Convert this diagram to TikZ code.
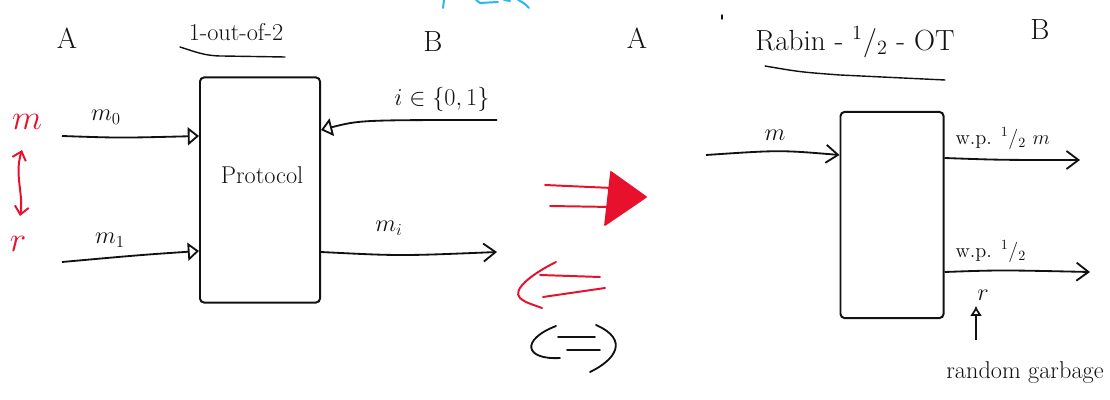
\documentclass[tikz,border=0pt]{standalone}
\usepackage{amsmath}
\usepackage{tikz}
\usetikzlibrary{arrows.meta,positioning,calc}
\definecolor{InkRed}{HTML}{E8112D}
\definecolor{InkBlue}{HTML}{29B6F0}
\definecolor{Ink}{HTML}{111111}

\begin{document}
\begin{tikzpicture}[
    x=0.025cm, y=-0.025cm,
    font=\Large, line width=1.3pt, draw=Ink, text=Ink,
    party/.style={font=\huge},
    title/.style={font=\huge},
    sig/.style={font=\LARGE},
    protobox/.style={draw=Ink, line width=1.4pt, rounded corners=1mm, minimum width=3cm, minimum height=5.625cm},
    otbox/.style={draw=Ink, line width=1.4pt, rounded corners=1mm, minimum width=2.575cm, minimum height=5.15cm},
    openarr/.style={-{Triangle[open, length=2.8mm, width=4.5mm]}, line width=1.3pt},
    hookarr/.style={-{Straight Barb[length=3mm, width=4.5mm]}, line width=1.3pt},
    redink/.style={draw=InkRed, line width=1.4pt, line cap=round},
    underl/.style={line width=1pt, line cap=round}
]
\useasboundingbox (0,0) rectangle (1110,400);

% 1-out-of-2 OT
\node[party] (ALeft) at (67,38) {A};
\node[party] (BLeft) at (433,42) {B};
\node[font=\LARGE] (titleLeft) at (236,32) {1-out-of-2};
\draw[underl] (180,47) .. controls (196,52) and (205,56) .. (222,56) -- (285,57);
\node[protobox] (proto) at (260,190) {};
\node[font=\LARGE] (protoLbl) at (262,175) {Protocol};

\node[font=\Huge, text=InkRed] (mRed) at (27,122) {$m$};
\node[font=\Huge, text=InkRed] (rRed) at (18,244) {$r$};
\coordinate (mrTop) at (22,150);
\coordinate (mrBot) at (20,216);
\draw[redink, {Straight Barb[length=2mm, width=3.5mm]}-{Straight Barb[length=2mm, width=3.5mm]}]
    (mrTop) .. controls (14,175) and (24,195) .. (mrBot);

\coordinate (m0start) at (62,136);
\coordinate (m1start) at (62,262);
\coordinate (ibstart) at (497,120);
\coordinate (miend) at (497,252);
\draw[openarr] (m0start) .. controls (120,138) .. (m0start -| proto.west);
\draw[openarr] (m1start) .. controls (140,255) .. ($(m1start -| proto.west)+(0,-11)$);
\draw[openarr] (ibstart) .. controls (360,120) .. ($(ibstart -| proto.east)+(0,10)$);
\draw[hookarr] (miend -| proto.east) .. controls (400,256) .. (miend);
\node[sig] (m0Lbl) at (106,117) {$m_0$};
\node[sig] (m1Lbl) at (110,240) {$m_1$};
\node[sig] (iLbl) at (442,99) {$i\in\{0,1\}$};
\node[sig] (miLbl) at (389,228) {$m_i$};

% equivalence signs
\coordinate (rgA) at (545,185);
\coordinate (rgB) at (550,206);
\coordinate (rgTip) at (646,197);
\draw[redink] (rgA) -- (612,188);
\draw[redink] (rgB) -- (612,207);
\fill[InkRed, draw=InkRed, line width=1.2pt, line join=round]
    (611,172) -- (rgTip) -- (605,225) -- cycle;
\draw[redink] (600,277) -- (540,275);
\draw[redink] (605,288) -- (543,297);
\draw[redink] (556,262) .. controls (530,275) and (512,290) .. (520,298) .. controls (525,302) .. (542,308);
\draw[line width=1.3pt, line cap=round] (556,326) .. controls (520,340) and (525,360) .. (560,358);
\draw[line width=1.3pt, line cap=round] (596,325) .. controls (630,340) and (615,360) .. (590,372);
\draw[line width=1.3pt, line cap=round] (558,337) -- (595,337);
\draw[line width=1.3pt, line cap=round] (567,350) -- (600,350);

% Rabin OT
\node[party] (ARight) at (637,38) {A};
\node[party] (BRight) at (1040,30) {B};
\node[title] (titleRight) at (855,42) {Rabin - $^1/_2$ - OT};
\draw[underl] (765,66) .. controls (800,72) .. (840,75) -- (945,80);
\node[otbox] (ot) at (892,215) {};

\coordinate (minstart) at (706,155);
\coordinate (out1end) at (1080,160);
\coordinate (out2end) at (1090,272);
\draw[hookarr] (minstart) .. controls (780,150) .. (minstart -| ot.west);
\draw[hookarr] (ot.east |- 0,158) .. controls (1000,160) .. (out1end);
\draw[hookarr] (ot.east |- 0,272) .. controls (1000,270) .. (out2end);
\node[sig] (mLbl) at (775,135) {$m$};
\node[font=\Large, anchor=south west] (wp1) at (950,155) {w.p. $^1/_2$ $m$};
\node[font=\Large, anchor=south west] (wp2) at (950,268) {w.p. $^1/_2$};
\node[sig] (rLbl) at (983,295) {$r$};
\node[font=\LARGE] (garbage) at (1025,373) {random garbage};
\draw[-{Latex[open, length=2.5mm, width=3mm]}, line width=1.2pt] (976,340) -- (rLbl.south -| 976,0);

% stray strokes
\draw[draw=InkBlue, line width=1.4pt, line cap=round] (443,8) -- (444,0);
\draw[draw=InkBlue, line width=1.4pt, line cap=round] (476,0) -- (480,3) -- (498,2);
\draw[draw=InkBlue, line width=1.4pt, line cap=round] (504,0) -- (510,1) (518,0) .. controls (524,3) .. (529,8);
\draw[line width=1pt, line cap=round] (722,15) -- (722,19);
\end{tikzpicture}
\end{document}
